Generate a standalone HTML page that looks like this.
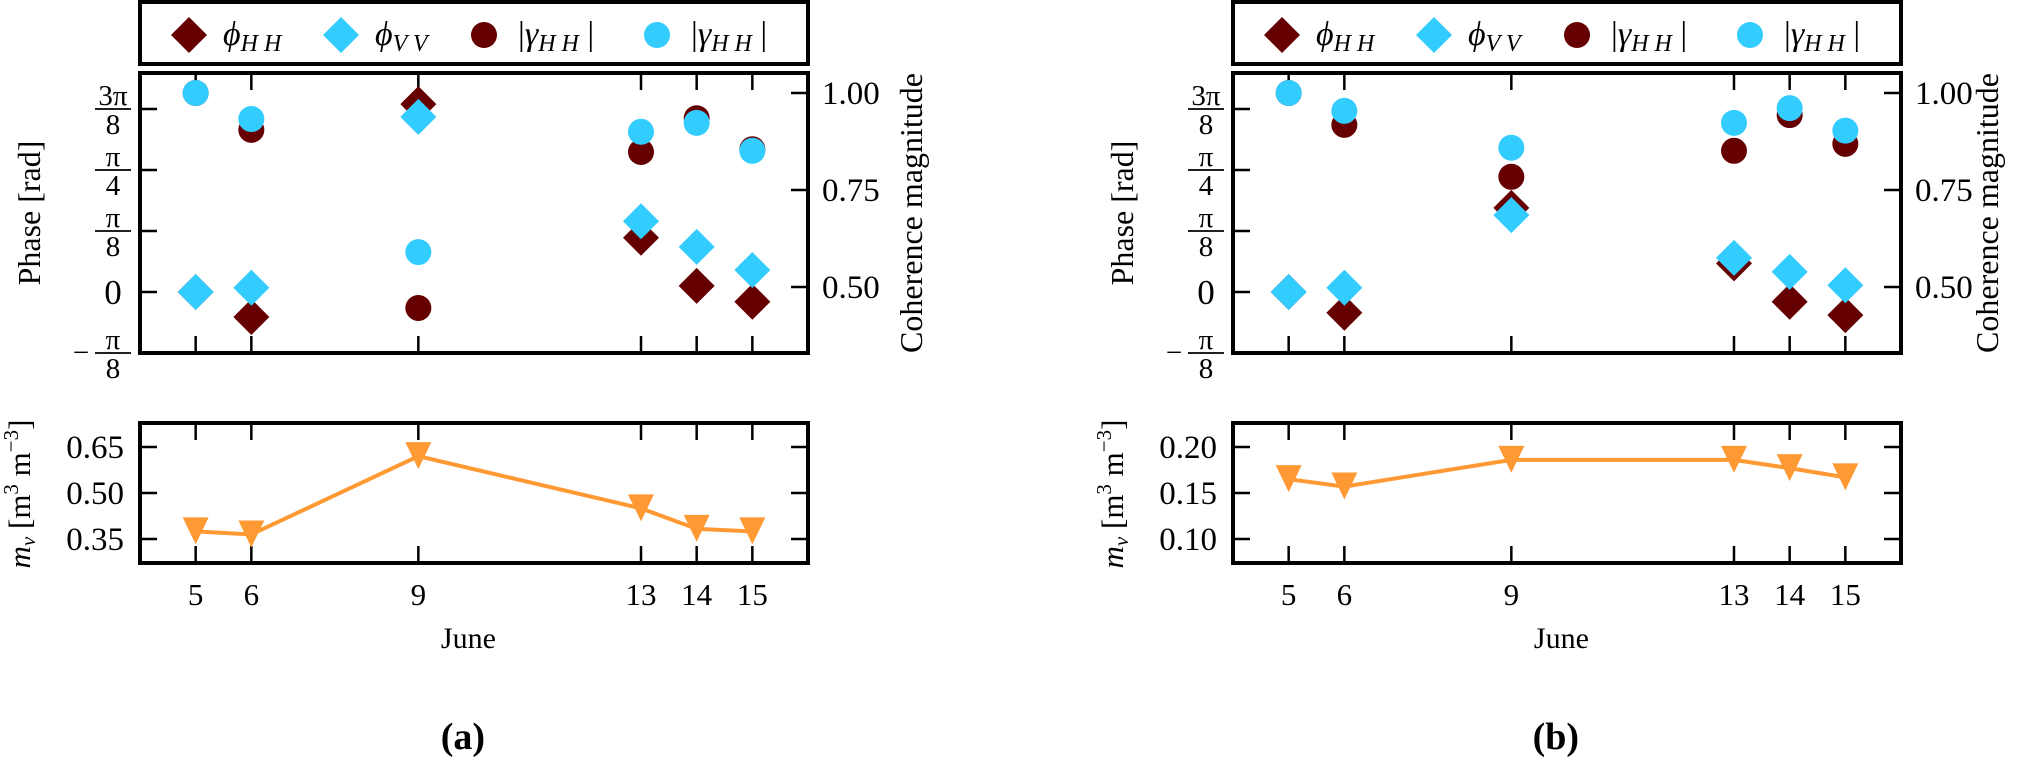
<!DOCTYPE html>
<html><head><meta charset="utf-8">
<style>
html,body{margin:0;padding:0;background:#fff;}
svg{display:block;}
text{font-family:"Liberation Serif",serif;fill:#000;}
</style></head>
<body>
<svg id="chart" xmlns="http://www.w3.org/2000/svg" width="2028" height="759" viewBox="0 0 2028 759" font-family="Liberation Serif, serif"></svg>
<script>
// ---- data ----
const days = [5, 6, 9, 13, 14, 15];
const dayTicks = [5, 6, 9, 13, 14, 15];
// phases in units of pi/8 rad
const phiHH_a = [0, -0.41, 3.08, 0.89, 0.10, -0.16];
const phiVV_a = [0, 0.07, 2.87, 1.16, 0.74, 0.36];
const gamDark_a = [1.0, 0.905, 0.446, 0.848, 0.935, 0.855];
const gamCyan_a = [1.0, 0.933, 0.59, 0.90, 0.923, 0.851];
const mv_a = [0.375, 0.365, 0.62, 0.45, 0.383, 0.375];
const phiHH_b = [0, -0.34, 1.38, 0.47, -0.16, -0.38];
const phiVV_b = [0, 0.07, 1.26, 0.56, 0.33, 0.11];
const gamDark_b = [1.0, 0.918, 0.784, 0.851, 0.943, 0.869];
const gamCyan_b = [1.0, 0.954, 0.859, 0.923, 0.961, 0.903];
const mv_b = [0.165, 0.157, 0.186, 0.186, 0.177, 0.167];
const mvTicks_a = [0.35, 0.50, 0.65];
const mvTickLabels_a = ["0.35", "0.50", "0.65"];
const mvTicks_b = [0.10, 0.15, 0.20];
const mvTickLabels_b = ["0.10", "0.15", "0.20"];
const cohTicks = [0.50, 0.75, 1.00];
const cohTickLabels = ["0.50", "0.75", "1.00"];

const NS = "http://www.w3.org/2000/svg";
const svg = document.getElementById('chart');
const FF = '"Liberation Serif", serif';
function mk(tag, attrs, parent) {
  const e = document.createElementNS(NS, tag);
  for (const k in attrs) e.setAttribute(k, attrs[k]);
  if (tag === 'text') e.setAttribute('font-family', FF);
  (parent || svg).appendChild(e);
  return e;
}
const DARK = "#660000", CYAN = "#33ccff", ORANGE = "#ff9933";

function drawPanel(ox, phiHH, phiVV, gDark, gCyan, mv, mvTicks, mvLabels, mvMin, mvMax, tag, cohX) {
  const g = mk('g', {});
  
  
  const L = 140 + ox, R = 808 + ox;
  const xS = d => L + (d - 4) / 12 * (R - L);
  const T1 = 73, B1 = 353;
  const yPh = v => 292 - v * 61;
  const yCoh = c => 287 - (c - 0.5) * 388;
  const T2 = 423, B2 = 563;
  const yMv = v => B2 - (v - mvMin) / (mvMax - mvMin) * (B2 - T2);

  // legend
  const leg = mk('g', {}, g);
  
  
  const lb = mk('rect', {x: L, y: 2, width: R - L, height: 62, fill: '#fff', stroke: '#000', 'stroke-width': 4}, leg);
  
  
  const legItems = [
    {type: 'd', col: DARK, x: 49, sub: 'HH', main: 'ϕ', abs: false, name: 'legend-phi-hh'},
    {type: 'd', col: CYAN, x: 201, sub: 'VV', main: 'ϕ', abs: false, name: 'legend-phi-vv'},
    {type: 'c', col: DARK, x: 344, sub: 'HH', main: 'γ', abs: true, name: 'legend-gamma-hh-dark'},
    {type: 'c', col: CYAN, x: 517, sub: 'HH', main: 'γ', abs: true, name: 'legend-gamma-hh-cyan'}
  ];
  legItems.forEach(it => {
    const cx = L + it.x, cy = 35;
    let m;
    if (it.type === 'd') m = mk('polygon', {points: `${cx},${cy-18} ${cx+18},${cy} ${cx},${cy+18} ${cx-18},${cy}`, fill: it.col}, leg);
    else m = mk('circle', {cx: cx, cy: cy, r: 13, fill: it.col}, leg);
    
    
    const t = mk('text', {x: cx + 34, y: cy + 10, 'font-size': 34, 'font-style': 'italic'}, leg);
    
    
    t.innerHTML = (it.abs ? '<tspan font-style="normal">|</tspan>' : '') + it.main +
      '<tspan font-size="24" dy="6">' + it.sub.split('').join(' ') + '</tspan>' +
      (it.abs ? '<tspan font-style="normal" dy="-6"> |</tspan>' : '');
  });

  const box1 = mk('rect', {x: L, y: T1, width: R - L, height: B1 - T1, fill: 'none', stroke: '#000', 'stroke-width': 4}, g);
  
  
  dayTicks.forEach(d => {
    const x = xS(d);
    const t1 = mk('line', {x1: x, y1: T1, x2: x, y2: T1 + 17, stroke: '#000', 'stroke-width': 2.5}, g);
    
    
    const t2 = mk('line', {x1: x, y1: B1, x2: x, y2: B1 - 17, stroke: '#000', 'stroke-width': 2.5}, g);
    
    
  });
  const phTicks = [{v: 3, n: '3π', d: '8'}, {v: 2, n: 'π', d: '4'}, {v: 1, n: 'π', d: '8'}, {v: 0}, {v: -1, n: 'π', d: '8', neg: true}];
  phTicks.forEach(pt => {
    const y = yPh(pt.v);
    const tl = mk('line', {x1: L, y1: y, x2: L + 17, y2: y, stroke: '#000', 'stroke-width': 2.5}, g);
    
    
    const lg = mk('g', {}, g);
    
    
    if (pt.v === 0) {
      const t = mk('text', {x: L - 27, y: y + 12, 'font-size': 35, 'text-anchor': 'middle'}, lg);
      t.textContent = '0';
    } else {
      const cx = L - 27;
      mk('line', {x1: cx - 18, y1: y, x2: cx + 18, y2: y, stroke: '#000', 'stroke-width': 1.8}, lg);
      const tn = mk('text', {x: cx, y: y - 4, 'font-size': 29, 'text-anchor': 'middle'}, lg);
      tn.textContent = pt.n;
      const td = mk('text', {x: cx, y: y + 25, 'font-size': 29, 'text-anchor': 'middle'}, lg);
      td.textContent = pt.d;
      if (pt.neg) {
        const m = mk('text', {x: cx - 32, y: y + 9, 'font-size': 29, 'text-anchor': 'middle'}, lg);
        m.textContent = '−';
      }
    }
  });
  cohTicks.forEach((c, i) => {
    const y = yCoh(c);
    const tl = mk('line', {x1: R, y1: y, x2: R - 17, y2: y, stroke: '#000', 'stroke-width': 2.5}, g);
    
    
    const t = mk('text', {x: R + 14, y: y + 11, 'font-size': 33}, g);
    
    
    t.textContent = cohTickLabels[i];
  });
  const pt = mk('text', {x: 0, y: 0, 'font-size': 32, 'text-anchor': 'middle', transform: `translate(${ox + 40},213) rotate(-90)`}, g);
  
  
  pt.textContent = 'Phase [rad]';
  const ct = mk('text', {x: 0, y: 0, 'font-size': 32, 'text-anchor': 'middle', transform: `translate(${cohX},213) rotate(-90)`}, g);
  
  
  ct.textContent = 'Coherence magnitude';

  const diamond = (x, y) => `${x},${y-18} ${x+18},${y} ${x},${y+18} ${x-18},${y}`;
  days.forEach((d, i) => {
    const p = mk('polygon', {points: diamond(xS(d), yPh(phiHH[i])), fill: DARK}, g);
    
    
  });
  days.forEach((d, i) => {
    const p = mk('polygon', {points: diamond(xS(d), yPh(phiVV[i])), fill: CYAN}, g);
    
    
  });
  days.forEach((d, i) => {
    const c = mk('circle', {cx: xS(d), cy: yCoh(gDark[i]), r: 13, fill: DARK}, g);
    
    
  });
  days.forEach((d, i) => {
    const c = mk('circle', {cx: xS(d), cy: yCoh(gCyan[i]), r: 13, fill: CYAN}, g);
    
    
  });

  const box2 = mk('rect', {x: L, y: T2, width: R - L, height: B2 - T2, fill: 'none', stroke: '#000', 'stroke-width': 4}, g);
  
  
  dayTicks.forEach(d => {
    const x = xS(d);
    const t1 = mk('line', {x1: x, y1: T2, x2: x, y2: T2 + 17, stroke: '#000', 'stroke-width': 2.5}, g);
    
    
    const t2 = mk('line', {x1: x, y1: B2, x2: x, y2: B2 - 17, stroke: '#000', 'stroke-width': 2.5}, g);
    
    
    const tl = mk('text', {x: x, y: 605, 'font-size': 31, 'text-anchor': 'middle'}, g);
    
    
    tl.textContent = String(d);
  });
  mvTicks.forEach((v, i) => {
    const y = yMv(v);
    const a = mk('line', {x1: L, y1: y, x2: L + 17, y2: y, stroke: '#000', 'stroke-width': 2.5}, g);
    
    
    const b = mk('line', {x1: R, y1: y, x2: R - 17, y2: y, stroke: '#000', 'stroke-width': 2.5}, g);
    
    
    const t = mk('text', {x: L - 16, y: y + 11, 'font-size': 33, 'text-anchor': 'end'}, g);
    
    
    t.textContent = mvLabels[i];
  });
  const pts = days.map((d, i) => `${xS(d)},${yMv(mv[i])}`).join(' ');
  const pl = mk('polyline', {points: pts, fill: 'none', stroke: ORANGE, 'stroke-width': 4}, g);
  
  
  days.forEach((d, i) => {
    const x = xS(d), y = yMv(mv[i]);
    const tri = mk('polygon', {points: `${x-13},${y-14} ${x+13},${y-14} ${x},${y+13}`, fill: ORANGE}, g);
    
    
  });
  const mt = mk('text', {x: 0, y: 0, 'font-size': 31, 'text-anchor': 'middle', transform: `translate(${ox + 30},494) rotate(-90)`}, g);
  
  
  mt.innerHTML = '<tspan font-style="italic">m</tspan><tspan font-style="italic" font-size="21" dy="5">v</tspan><tspan dy="-5"> [m</tspan><tspan font-size="21" dy="-12">3</tspan><tspan dy="12"> m</tspan><tspan font-size="21" dy="-12">−3</tspan><tspan dy="12">]</tspan>';
  const xt = mk('text', {x: xS(9.9), y: 648, 'font-size': 30, 'text-anchor': 'middle'}, g);
  
  
  xt.textContent = 'June';
  const cap = mk('text', {x: xS(9.8), y: 749, 'font-size': 38, 'font-weight': 'bold', 'text-anchor': 'middle'}, g);
  
  
  cap.textContent = '(' + tag + ')';
}

drawPanel(0, phiHH_a, phiVV_a, gamDark_a, gamCyan_a, mv_a, mvTicks_a, mvTickLabels_a, 0.272, 0.728, 'a', 922);
drawPanel(1093, phiHH_b, phiVV_b, gamDark_b, gamCyan_b, mv_b, mvTicks_b, mvTickLabels_b, 0.074, 0.226, 'b', 1998);
</script>
</body></html>
